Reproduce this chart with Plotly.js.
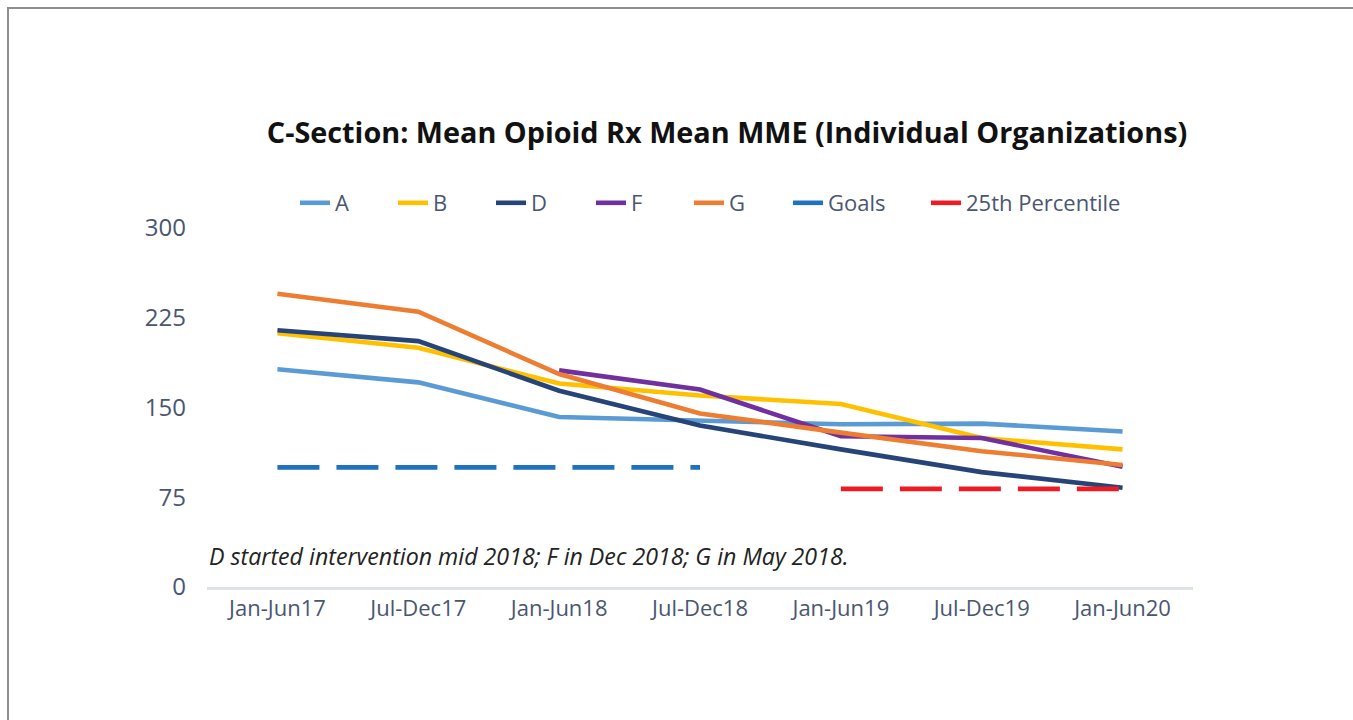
<!DOCTYPE html>
<html>
<head>
<meta charset="utf-8">
<script src="https://cdn.plot.ly/plotly-3.0.1.min.js"></script>
<style>
  html, body { margin: 0; padding: 0; background: #ffffff; }
  #chart { position: absolute; left: 0; top: 0; width: 1353px; height: 720px; }
  #frame { position: absolute; left: 7px; top: 7px; width: 2000px; height: 2000px;
           border-left: 2px solid #8e8e8e; border-top: 2px solid #8e8e8e; pointer-events: none; }
</style>
</head>
<body>
<div id="chart"></div>
<div id="frame"></div>
<script>
const categories = ["Jan-Jun17", "Jul-Dec17", "Jan-Jun18", "Jul-Dec18", "Jan-Jun19", "Jul-Dec19", "Jan-Jun20"];
const seriesA = [182, 171, 142, 139, 136, 136.5, 130];
const seriesB = [212, 200, 170, 160, 153, 124.5, 115];
const seriesD = [214.5, 205.5, 164, 135, 115, 96, 83];
const seriesF = [null, null, 181, 165, 126, 124.5, 100.5];
const seriesG = [245, 230, 178, 145, 129, 113.5, 102];
const goals = [100, 100, 100, 100, null, null, null];
const pct25 = [null, null, null, null, 82, 82, 82];
const yTicks = [0, 75, 150, 225, 300];
const titleText = "C-Section: Mean Opioid Rx Mean MME (Individual Organizations)";
const noteText = "D started intervention mid 2018; F in Dec 2018; G in May 2018.";

const FONT = "'Open Sans', Lato, sans-serif";
const W = 4.6;
function line(name, y, color, dash, lw) {
  return { type: "scatter", mode: "lines", name: name, x: categories, y: y,
           line: { color: color, width: W, dash: dash || "solid" },
           legendwidth: lw, connectgaps: false, hoverinfo: "skip" };
}
const traces = [
  line("A", seriesA, "#5b9bd5", "solid", 53),
  line("B", seriesB, "#ffc000", "solid", 53),
  line("D", seriesD, "#264478", "solid", 55),
  line("F", seriesF, "#7030a0", "solid", 53),
  line("G", seriesG, "#ed7d31", "solid", 54),
  line("Goals", goals, "#1f72c0", "42px,17px", 93),
  line("25th Percentile", pct25, "#ed1c24", "42px,17px", 170)
];

const layout = {
  width: 1353, height: 720,
  margin: { l: 207, r: 160, t: 228, b: 133 },
  paper_bgcolor: "#ffffff", plot_bgcolor: "#ffffff",
  showlegend: true,
  title: { text: "<b>" + titleText + "</b>", font: { family: FONT, size: 28.8, color: "#111111" },
           x: 727 / 1353, xanchor: "center", xref: "container",
           y: 1 - 133 / 720, yanchor: "middle", yref: "container" },
  legend: { orientation: "h", x: (295 - 207) / 986, xanchor: "left", y: 1 + (228 - 203) / 359, yanchor: "middle",
            font: { family: FONT, size: 22, color: "#4a5670" }, itemwidth: 30, traceorder: "normal" },
  xaxis: { type: "category", range: [-0.5, 6.5], showgrid: false, zeroline: false,
           showline: true, linecolor: "#dde2ec", linewidth: 3,
           ticks: "", tickfont: { family: FONT, size: 22, color: "#4a5670" }, ticklabelstandoff: 0 },
  yaxis: { range: [0, 300], tickvals: yTicks, ticktext: yTicks.map(String), showgrid: false,
           zeroline: false, showline: false, ticks: "",
           tickfont: { family: FONT, size: 24, color: "#4a5670" }, ticklabelstandoff: 20 },
  annotations: [{ text: "<i>" + noteText + "</i>", xref: "paper", yref: "paper",
                  x: 0, xanchor: "left", y: (587 - 556) / 359, yanchor: "middle", showarrow: false,
                  font: { family: FONT, size: 23.2, color: "#222222" } }]
};
Plotly.newPlot("chart", traces, layout, { staticPlot: true, displayModeBar: false });
</script>
</body>
</html>
